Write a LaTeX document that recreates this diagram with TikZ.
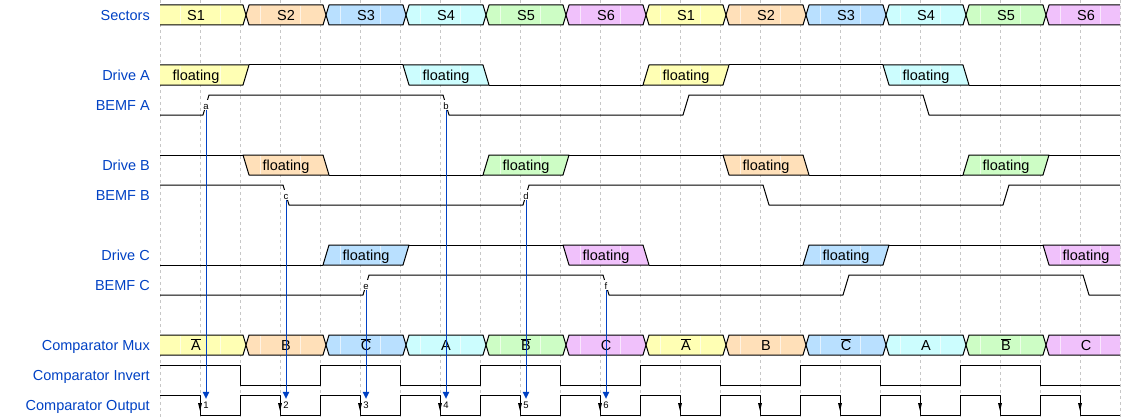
\documentclass[tikz,border=0pt]{standalone}
\usepackage{fontspec}
\setmainfont{Liberation Sans}
\usetikzlibrary{arrows.meta}
\definecolor{lanecol}{HTML}{0041C4}
\definecolor{colyel}{HTML}{FFFFB4}
\definecolor{colora}{HTML}{FFE0B9}
\definecolor{colblu}{HTML}{B9E0FF}
\definecolor{colcya}{HTML}{CCFDFE}
\definecolor{colgrn}{HTML}{CDFDC5}
\definecolor{colpur}{HTML}{F0C1FB}
\tikzset{
  lane/.style={anchor=east, text=lanecol, inner sep=0pt, text height=10.5pt, text depth=0pt, font=\fontsize{14.5}{17}\selectfont},
  wavetext/.style={inner sep=0pt, text height=10.5pt, text depth=0pt, font=\fontsize{14.5}{17}\selectfont},
  gridline/.style={color=black!22, line width=0.5pt, dash pattern=on 3pt off 3pt},
  seam/.style={color=white, opacity=0.6, line width=0.6pt},
  edgemark/.style={fill=white, inner sep=1pt, text height=8pt, text depth=0pt, font=\fontsize{9.5}{11}\selectfont},
  edgearrow/.style={color=lanecol, line width=1pt, -{Triangle[length=7pt,width=6.5pt]}}
}
\newcommand{\busrow}[2]{%
  \foreach \fc/\lbl [count=\i from 0] in {#2} {
    \pgfmathsetmacro\xa{\i==0 ? 100 : 160+80*\i}
    \pgfmathsetmacro\xb{\i==11 ? 1180 : 240+80*\i}
    \pgfmathsetmacro\xt{\i==0 ? 196 : 206+80*\i}
    \draw[fill=\fc] (\xa+6,#1+10) -- (\xa+9,#1) -- (\xb+3,#1) -- (\xb+6,#1+10) -- (\xb+3,#1+20) -- (\xa+9,#1+20) -- cycle;
    \node[wavetext] at (\xt,#1+10) {\lbl};
  }
  \foreach \k in {0,...,23}
    \draw[seam] ({180+40*\k},#1+1) -- ++(0,18);
}
\newcommand{\floatbox}[8]{%
  \fill[#1] (#3,#7) -- (#4,#7) -- (#5,#7+20) -- (#6,#7+20) -- cycle;
  \draw[seam] (#2+20,#7+1) -- ++(0,18) (#2+60,#7+1) -- ++(0,18);
  \draw (#3,#7) -- (#4,#7) -- (#5,#7+20) -- (#6,#7+20) -- cycle;
  \node[wavetext] at (#8,#7+10) {floating};
}
\begin{document}
\begin{tikzpicture}[x=1pt, y=-1pt, line join=round]
\useasboundingbox (0,0) rectangle (1140,420);
\foreach \k in {0,...,24}
  \draw[gridline] ({160+40*\k},0) -- ({160+40*\k},420);

\node[lane] (sectors) at (150,15) {Sectors};
\node[lane] (driveA) at (150,75) {Drive A};
\node[lane] (bemfA) at (150,105) {BEMF A};
\node[lane] (driveB) at (150,165) {Drive B};
\node[lane] (bemfB) at (150,195) {BEMF B};
\node[lane] (driveC) at (150,255) {Drive C};
\node[lane] (bemfC) at (150,285) {BEMF C};
\node[lane] (cmux) at (150,345) {Comparator Mux};
\node[lane] (cinv) at (150,375) {Comparator Invert};
\node[lane] (cout) at (150,405) {Comparator Output};

\begin{scope}[line width=1pt]
\clip (160,0) rectangle (1120,420);
\busrow{5}{colyel/S1, colora/S2, colblu/S3, colcya/S4, colgrn/S5, colpur/S6, colyel/S1, colora/S2, colblu/S3, colcya/S4, colgrn/S5, colpur/S6}

\floatbox{colyel}{160}{150}{249}{243}{150}{65}{196}
\draw (249,65) -- (403,65);
\floatbox{colcya}{400}{403}{483}{489}{409}{65}{446}
\draw (489,85) -- (643,85);
\floatbox{colyel}{640}{649}{729}{723}{643}{65}{686}
\draw (729,65) -- (883,65);
\floatbox{colcya}{880}{883}{963}{969}{889}{65}{926}
\draw (969,85) -- (1120,85);
\draw (160,115) -- (203,115) -- (209,95) -- (443,95) -- (449,115) -- (683,115) -- (689,95) -- (923,95) -- (929,115) -- (1120,115);

\draw (160,155) -- (243,155);
\floatbox{colora}{240}{243}{323}{329}{249}{155}{286}
\draw (329,175) -- (483,175);
\floatbox{colgrn}{480}{489}{569}{563}{483}{155}{526}
\draw (569,155) -- (723,155);
\floatbox{colora}{720}{723}{803}{809}{729}{155}{766}
\draw (809,175) -- (963,175);
\floatbox{colgrn}{960}{969}{1049}{1043}{963}{155}{1006}
\draw (1049,155) -- (1120,155);
\draw (160,185) -- (283,185) -- (289,205) -- (523,205) -- (529,185) -- (763,185) -- (769,205) -- (1003,205) -- (1009,185) -- (1120,185);

\draw (160,265) -- (323,265);
\floatbox{colblu}{320}{329}{409}{403}{323}{245}{366}
\draw (409,245) -- (563,245);
\floatbox{colpur}{560}{563}{643}{649}{569}{245}{606}
\draw (649,265) -- (803,265);
\floatbox{colblu}{800}{809}{889}{883}{803}{245}{846}
\draw (889,245) -- (1043,245);
\floatbox{colpur}{1040}{1043}{1130}{1130}{1049}{245}{1086}
\draw (160,295) -- (363,295) -- (369,275) -- (603,275) -- (609,295) -- (843,295) -- (849,275) -- (1083,275) -- (1089,295) -- (1120,295);

\busrow{335}{colyel/$\overline{\mbox{A}}$, colora/B, colblu/$\overline{\mbox{C}}$, colcya/A, colgrn/$\overline{\mbox{B}}$, colpur/C, colyel/$\overline{\mbox{A}}$, colora/B, colblu/$\overline{\mbox{C}}$, colcya/A, colgrn/$\overline{\mbox{B}}$, colpur/C}
\draw (160,365) \foreach \k in {0,...,4} { -| ({240+160*\k},385) -| ({320+160*\k},365) } -| (1040,385) -- (1120,385);
\draw (160,395) \foreach \k in {0,...,10} { -| ({200+80*\k},415) -| ({240+80*\k},395) } -| (1080,415) -- (1120,415);
\foreach \k in {0,...,11}
  \fill ({198+80*\k},403) -- ++(4,0) -- ++(-2,8) -- cycle;
\end{scope}

\node[edgemark] (a) at (206,105) {a};
\node[edgemark] (b) at (446,105) {b};
\node[edgemark] (c) at (286,195) {c};
\node[edgemark] (d) at (526,195) {d};
\node[edgemark] (e) at (366,285) {e};
\node[edgemark] (f) at (606,285) {f};
\node[edgemark] (o1) at (206,404) {1};
\node[edgemark] (o2) at (286,404) {2};
\node[edgemark] (o3) at (366,404) {3};
\node[edgemark] (o4) at (446,404) {4};
\node[edgemark] (o5) at (526,404) {5};
\node[edgemark] (o6) at (606,404) {6};
\draw[edgearrow] (a) -- (o1);
\draw[edgearrow] (c) -- (o2);
\draw[edgearrow] (e) -- (o3);
\draw[edgearrow] (b) -- (o4);
\draw[edgearrow] (d) -- (o5);
\draw[edgearrow] (f) -- (o6);
\end{tikzpicture}
\end{document}
